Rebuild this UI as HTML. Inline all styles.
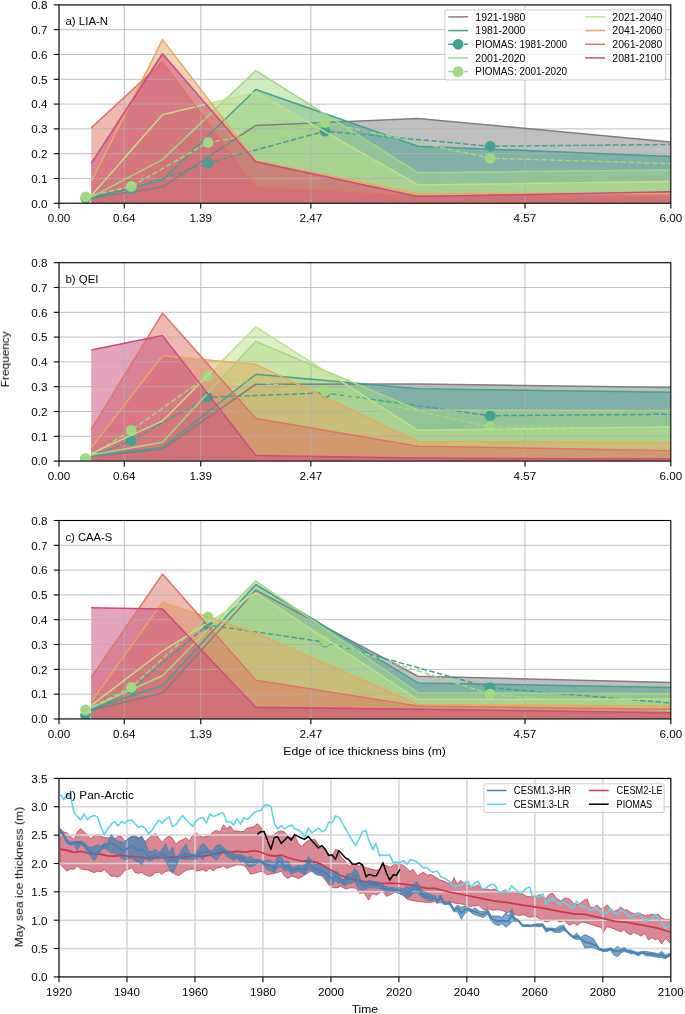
<!DOCTYPE html>
<html><head><meta charset="utf-8"><title>chart</title>
<style>html,body{margin:0;padding:0;background:#fff}svg{display:block}text{font-family:"Liberation Sans",sans-serif;fill:#000}</style>
</head><body>
<svg width="685" height="1014" viewBox="0 0 685 1014">
<rect width="685" height="1014" fill="#fff"/>
<defs><clipPath id="ca"><rect x="59.0" y="4.9" width="611.80" height="198.35"/></clipPath></defs>
<g clip-path="url(#ca)">
<polygon points="91.22,198.29 162.50,186.89 255.80,125.40 417.92,118.46 670.80,142.01 670.80,203.25 91.22,203.25" fill="#7f7f7f" fill-opacity="0.5"/>
<polygon points="91.22,198.29 162.50,179.94 255.80,89.45 417.92,146.22 670.80,156.39 670.80,203.25 91.22,203.25" fill="#44a192" fill-opacity="0.5"/>
<polygon points="91.22,197.05 162.50,159.61 255.80,70.60 417.92,172.63 670.80,170.03 670.80,203.25 91.22,203.25" fill="#a1d884" fill-opacity="0.5"/>
<polygon points="91.22,195.81 162.50,114.74 255.80,92.17 417.92,184.90 670.80,181.43 670.80,203.25 91.22,203.25" fill="#c0e08a" fill-opacity="0.5"/>
<polygon points="91.22,181.68 162.50,39.61 255.80,161.10 417.92,193.58 670.80,193.58 670.80,203.25 91.22,203.25" fill="#e8a862" fill-opacity="0.5"/>
<polygon points="91.22,127.88 162.50,61.93 255.80,186.89 417.92,195.81 670.80,196.56 670.80,203.25 91.22,203.25" fill="#dc7566" fill-opacity="0.5"/>
<polygon points="91.22,163.33 162.50,53.74 255.80,161.84 417.92,196.56 670.80,191.84 670.80,203.25 91.22,203.25" fill="#cc4a7e" fill-opacity="0.5"/>
<line x1="59.00" x2="59.00" y1="4.9" y2="203.25" stroke="#b0b0b0" stroke-width="0.8"/>
<line x1="124.26" x2="124.26" y1="4.9" y2="203.25" stroke="#b0b0b0" stroke-width="0.8"/>
<line x1="200.73" x2="200.73" y1="4.9" y2="203.25" stroke="#b0b0b0" stroke-width="0.8"/>
<line x1="310.86" x2="310.86" y1="4.9" y2="203.25" stroke="#b0b0b0" stroke-width="0.8"/>
<line x1="524.99" x2="524.99" y1="4.9" y2="203.25" stroke="#b0b0b0" stroke-width="0.8"/>
<line x1="670.80" x2="670.80" y1="4.9" y2="203.25" stroke="#b0b0b0" stroke-width="0.8"/>
<line x1="59.0" x2="670.8" y1="203.25" y2="203.25" stroke="#b0b0b0" stroke-width="0.8"/>
<line x1="59.0" x2="670.8" y1="178.46" y2="178.46" stroke="#b0b0b0" stroke-width="0.8"/>
<line x1="59.0" x2="670.8" y1="153.66" y2="153.66" stroke="#b0b0b0" stroke-width="0.8"/>
<line x1="59.0" x2="670.8" y1="128.87" y2="128.87" stroke="#b0b0b0" stroke-width="0.8"/>
<line x1="59.0" x2="670.8" y1="104.08" y2="104.08" stroke="#b0b0b0" stroke-width="0.8"/>
<line x1="59.0" x2="670.8" y1="79.28" y2="79.28" stroke="#b0b0b0" stroke-width="0.8"/>
<line x1="59.0" x2="670.8" y1="54.49" y2="54.49" stroke="#b0b0b0" stroke-width="0.8"/>
<line x1="59.0" x2="670.8" y1="29.69" y2="29.69" stroke="#b0b0b0" stroke-width="0.8"/>
<line x1="59.0" x2="670.8" y1="4.90" y2="4.90" stroke="#b0b0b0" stroke-width="0.8"/>
<polyline points="91.22,198.29 162.50,186.89 255.80,125.40 417.92,118.46 670.80,142.01" fill="none" stroke="#7f7f7f" stroke-width="1.5" stroke-linejoin="round"/>
<polyline points="91.22,198.29 162.50,179.94 255.80,89.45 417.92,146.22 670.80,156.39" fill="none" stroke="#44a192" stroke-width="1.5" stroke-linejoin="round"/>
<polyline points="85.82,198.29 131.29,188.62 208.08,163.08 325.03,131.10 490.22,146.22 670.80,144.49" fill="none" stroke="#44a192" stroke-width="1.5" stroke-dasharray="5.5,2.4"/>
<circle cx="85.82" cy="198.29" r="5.4" fill="#44a192"/>
<circle cx="131.29" cy="188.62" r="5.4" fill="#44a192"/>
<circle cx="208.08" cy="163.08" r="5.4" fill="#44a192"/>
<circle cx="325.03" cy="131.10" r="5.4" fill="#44a192"/>
<circle cx="490.22" cy="146.22" r="5.4" fill="#44a192"/>
<polyline points="91.22,197.05 162.50,159.61 255.80,70.60 417.92,172.63 670.80,170.03" fill="none" stroke="#a1d884" stroke-width="1.5" stroke-linejoin="round"/>
<polyline points="85.82,196.80 131.29,186.39 208.08,142.51 325.03,122.42 490.22,158.13 670.80,163.58" fill="none" stroke="#a1d884" stroke-width="1.5" stroke-dasharray="5.5,2.4"/>
<circle cx="85.82" cy="196.80" r="5.4" fill="#a1d884"/>
<circle cx="131.29" cy="186.39" r="5.4" fill="#a1d884"/>
<circle cx="208.08" cy="142.51" r="5.4" fill="#a1d884"/>
<circle cx="325.03" cy="122.42" r="5.4" fill="#a1d884"/>
<circle cx="490.22" cy="158.13" r="5.4" fill="#a1d884"/>
<polyline points="91.22,195.81 162.50,114.74 255.80,92.17 417.92,184.90 670.80,181.43" fill="none" stroke="#c0e08a" stroke-width="1.5" stroke-linejoin="round"/>
<polyline points="91.22,181.68 162.50,39.61 255.80,161.10 417.92,193.58 670.80,193.58" fill="none" stroke="#e8a862" stroke-width="1.5" stroke-linejoin="round"/>
<polyline points="91.22,127.88 162.50,61.93 255.80,186.89 417.92,195.81 670.80,196.56" fill="none" stroke="#dc7566" stroke-width="1.5" stroke-linejoin="round"/>
<polyline points="91.22,163.33 162.50,53.74 255.80,161.84 417.92,196.56 670.80,191.84" fill="none" stroke="#cc4a7e" stroke-width="1.5" stroke-linejoin="round"/>
</g><g>
<rect x="59.0" y="4.9" width="611.80" height="198.35" fill="none" stroke="#000" stroke-width="1.1"/>
<line x1="59.00" x2="59.00" y1="203.25" y2="208.55" stroke="#000" stroke-width="1.1"/>
<line x1="124.26" x2="124.26" y1="203.25" y2="208.55" stroke="#000" stroke-width="1.1"/>
<line x1="200.73" x2="200.73" y1="203.25" y2="208.55" stroke="#000" stroke-width="1.1"/>
<line x1="310.86" x2="310.86" y1="203.25" y2="208.55" stroke="#000" stroke-width="1.1"/>
<line x1="524.99" x2="524.99" y1="203.25" y2="208.55" stroke="#000" stroke-width="1.1"/>
<line x1="670.80" x2="670.80" y1="203.25" y2="208.55" stroke="#000" stroke-width="1.1"/>
<line x1="53.7" x2="59.0" y1="203.25" y2="203.25" stroke="#000" stroke-width="1.1"/>
<line x1="53.7" x2="59.0" y1="178.46" y2="178.46" stroke="#000" stroke-width="1.1"/>
<line x1="53.7" x2="59.0" y1="153.66" y2="153.66" stroke="#000" stroke-width="1.1"/>
<line x1="53.7" x2="59.0" y1="128.87" y2="128.87" stroke="#000" stroke-width="1.1"/>
<line x1="53.7" x2="59.0" y1="104.08" y2="104.08" stroke="#000" stroke-width="1.1"/>
<line x1="53.7" x2="59.0" y1="79.28" y2="79.28" stroke="#000" stroke-width="1.1"/>
<line x1="53.7" x2="59.0" y1="54.49" y2="54.49" stroke="#000" stroke-width="1.1"/>
<line x1="53.7" x2="59.0" y1="29.69" y2="29.69" stroke="#000" stroke-width="1.1"/>
<line x1="53.7" x2="59.0" y1="4.90" y2="4.90" stroke="#000" stroke-width="1.1"/>
</g>
<defs><clipPath id="cb"><rect x="59.0" y="262.7" width="611.80" height="198.40"/></clipPath></defs>
<g clip-path="url(#cb)">
<polygon points="91.22,456.14 162.50,449.20 255.80,384.22 417.92,383.97 670.80,387.44 670.80,461.1 91.22,461.1" fill="#7f7f7f" fill-opacity="0.5"/>
<polygon points="91.22,456.14 162.50,447.46 255.80,374.30 417.92,388.68 670.80,392.16 670.80,461.1 91.22,461.1" fill="#44a192" fill-opacity="0.5"/>
<polygon points="91.22,454.90 162.50,442.25 255.80,341.32 417.92,410.01 670.80,410.51 670.80,461.1 91.22,461.1" fill="#a1d884" fill-opacity="0.5"/>
<polygon points="91.22,453.66 162.50,420.92 255.80,326.93 417.92,430.35 670.80,426.88 670.80,461.1 91.22,461.1" fill="#c0e08a" fill-opacity="0.5"/>
<polygon points="91.22,447.96 162.50,355.70 255.80,364.38 417.92,441.51 670.80,442.75 670.80,461.1 91.22,461.1" fill="#e8a862" fill-opacity="0.5"/>
<polygon points="91.22,429.60 162.50,313.04 255.80,418.44 417.92,446.22 670.80,450.68 670.80,461.1 91.22,461.1" fill="#dc7566" fill-opacity="0.5"/>
<polygon points="91.22,350.00 162.50,335.61 255.80,455.40 417.92,458.00 670.80,459.12 670.80,461.1 91.22,461.1" fill="#cc4a7e" fill-opacity="0.5"/>
<line x1="59.00" x2="59.00" y1="262.7" y2="461.1" stroke="#b0b0b0" stroke-width="0.8"/>
<line x1="124.26" x2="124.26" y1="262.7" y2="461.1" stroke="#b0b0b0" stroke-width="0.8"/>
<line x1="200.73" x2="200.73" y1="262.7" y2="461.1" stroke="#b0b0b0" stroke-width="0.8"/>
<line x1="310.86" x2="310.86" y1="262.7" y2="461.1" stroke="#b0b0b0" stroke-width="0.8"/>
<line x1="524.99" x2="524.99" y1="262.7" y2="461.1" stroke="#b0b0b0" stroke-width="0.8"/>
<line x1="670.80" x2="670.80" y1="262.7" y2="461.1" stroke="#b0b0b0" stroke-width="0.8"/>
<line x1="59.0" x2="670.8" y1="461.10" y2="461.10" stroke="#b0b0b0" stroke-width="0.8"/>
<line x1="59.0" x2="670.8" y1="436.30" y2="436.30" stroke="#b0b0b0" stroke-width="0.8"/>
<line x1="59.0" x2="670.8" y1="411.50" y2="411.50" stroke="#b0b0b0" stroke-width="0.8"/>
<line x1="59.0" x2="670.8" y1="386.70" y2="386.70" stroke="#b0b0b0" stroke-width="0.8"/>
<line x1="59.0" x2="670.8" y1="361.90" y2="361.90" stroke="#b0b0b0" stroke-width="0.8"/>
<line x1="59.0" x2="670.8" y1="337.10" y2="337.10" stroke="#b0b0b0" stroke-width="0.8"/>
<line x1="59.0" x2="670.8" y1="312.30" y2="312.30" stroke="#b0b0b0" stroke-width="0.8"/>
<line x1="59.0" x2="670.8" y1="287.50" y2="287.50" stroke="#b0b0b0" stroke-width="0.8"/>
<line x1="59.0" x2="670.8" y1="262.70" y2="262.70" stroke="#b0b0b0" stroke-width="0.8"/>
<polyline points="91.22,456.14 162.50,449.20 255.80,384.22 417.92,383.97 670.80,387.44" fill="none" stroke="#7f7f7f" stroke-width="1.5" stroke-linejoin="round"/>
<polyline points="91.22,456.14 162.50,447.46 255.80,374.30 417.92,388.68 670.80,392.16" fill="none" stroke="#44a192" stroke-width="1.5" stroke-linejoin="round"/>
<polyline points="85.51,459.12 131.19,440.52 207.87,397.36 325.23,392.90 490.22,415.72 670.80,414.23" fill="none" stroke="#44a192" stroke-width="1.5" stroke-dasharray="5.5,2.4"/>
<circle cx="85.51" cy="459.12" r="5.4" fill="#44a192"/>
<circle cx="131.19" cy="440.52" r="5.4" fill="#44a192"/>
<circle cx="207.87" cy="397.36" r="5.4" fill="#44a192"/>
<circle cx="325.23" cy="392.90" r="5.4" fill="#44a192"/>
<circle cx="490.22" cy="415.72" r="5.4" fill="#44a192"/>
<polyline points="91.22,454.90 162.50,442.25 255.80,341.32 417.92,410.01 670.80,410.51" fill="none" stroke="#a1d884" stroke-width="1.5" stroke-linejoin="round"/>
<polyline points="85.51,458.37 131.19,430.35 207.87,376.04 325.23,390.92 490.22,426.88 670.80,427.62" fill="none" stroke="#a1d884" stroke-width="1.5" stroke-dasharray="5.5,2.4"/>
<circle cx="85.51" cy="458.37" r="5.4" fill="#a1d884"/>
<circle cx="131.19" cy="430.35" r="5.4" fill="#a1d884"/>
<circle cx="207.87" cy="376.04" r="5.4" fill="#a1d884"/>
<circle cx="325.23" cy="390.92" r="5.4" fill="#a1d884"/>
<circle cx="490.22" cy="426.88" r="5.4" fill="#a1d884"/>
<polyline points="91.22,453.66 162.50,420.92 255.80,326.93 417.92,430.35 670.80,426.88" fill="none" stroke="#c0e08a" stroke-width="1.5" stroke-linejoin="round"/>
<polyline points="91.22,447.96 162.50,355.70 255.80,364.38 417.92,441.51 670.80,442.75" fill="none" stroke="#e8a862" stroke-width="1.5" stroke-linejoin="round"/>
<polyline points="91.22,429.60 162.50,313.04 255.80,418.44 417.92,446.22 670.80,450.68" fill="none" stroke="#dc7566" stroke-width="1.5" stroke-linejoin="round"/>
<polyline points="91.22,350.00 162.50,335.61 255.80,455.40 417.92,458.00 670.80,459.12" fill="none" stroke="#cc4a7e" stroke-width="1.5" stroke-linejoin="round"/>
</g><g>
<rect x="59.0" y="262.7" width="611.80" height="198.40" fill="none" stroke="#000" stroke-width="1.1"/>
<line x1="59.00" x2="59.00" y1="461.1" y2="466.40000000000003" stroke="#000" stroke-width="1.1"/>
<line x1="124.26" x2="124.26" y1="461.1" y2="466.40000000000003" stroke="#000" stroke-width="1.1"/>
<line x1="200.73" x2="200.73" y1="461.1" y2="466.40000000000003" stroke="#000" stroke-width="1.1"/>
<line x1="310.86" x2="310.86" y1="461.1" y2="466.40000000000003" stroke="#000" stroke-width="1.1"/>
<line x1="524.99" x2="524.99" y1="461.1" y2="466.40000000000003" stroke="#000" stroke-width="1.1"/>
<line x1="670.80" x2="670.80" y1="461.1" y2="466.40000000000003" stroke="#000" stroke-width="1.1"/>
<line x1="53.7" x2="59.0" y1="461.10" y2="461.10" stroke="#000" stroke-width="1.1"/>
<line x1="53.7" x2="59.0" y1="436.30" y2="436.30" stroke="#000" stroke-width="1.1"/>
<line x1="53.7" x2="59.0" y1="411.50" y2="411.50" stroke="#000" stroke-width="1.1"/>
<line x1="53.7" x2="59.0" y1="386.70" y2="386.70" stroke="#000" stroke-width="1.1"/>
<line x1="53.7" x2="59.0" y1="361.90" y2="361.90" stroke="#000" stroke-width="1.1"/>
<line x1="53.7" x2="59.0" y1="337.10" y2="337.10" stroke="#000" stroke-width="1.1"/>
<line x1="53.7" x2="59.0" y1="312.30" y2="312.30" stroke="#000" stroke-width="1.1"/>
<line x1="53.7" x2="59.0" y1="287.50" y2="287.50" stroke="#000" stroke-width="1.1"/>
<line x1="53.7" x2="59.0" y1="262.70" y2="262.70" stroke="#000" stroke-width="1.1"/>
</g>
<defs><clipPath id="cc"><rect x="59.0" y="520.5" width="611.80" height="198.45"/></clipPath></defs>
<g clip-path="url(#cc)">
<polygon points="91.22,710.27 162.50,692.90 255.80,590.21 417.92,676.28 670.80,682.48 670.80,718.95 91.22,718.95" fill="#7f7f7f" fill-opacity="0.5"/>
<polygon points="91.22,709.03 162.50,685.46 255.80,584.50 417.92,682.98 670.80,687.45 670.80,718.95 91.22,718.95" fill="#44a192" fill-opacity="0.5"/>
<polygon points="91.22,707.79 162.50,675.79 255.80,581.03 417.92,692.66 670.80,693.65 670.80,718.95 91.22,718.95" fill="#a1d884" fill-opacity="0.5"/>
<polygon points="91.22,705.31 162.50,651.23 255.80,592.93 417.92,699.60 670.80,699.11 670.80,718.95 91.22,718.95" fill="#c0e08a" fill-opacity="0.5"/>
<polygon points="91.22,702.08 162.50,602.11 255.80,633.12 417.92,704.56 670.80,706.30 670.80,718.95 91.22,718.95" fill="#e8a862" fill-opacity="0.5"/>
<polygon points="91.22,677.52 162.50,574.08 255.80,680.25 417.92,706.05 670.80,709.28 670.80,718.95 91.22,718.95" fill="#dc7566" fill-opacity="0.5"/>
<polygon points="91.22,607.82 162.50,609.06 255.80,707.29 417.92,709.28 670.80,712.75 670.80,718.95 91.22,718.95" fill="#cc4a7e" fill-opacity="0.5"/>
<line x1="59.00" x2="59.00" y1="520.5" y2="718.95" stroke="#b0b0b0" stroke-width="0.8"/>
<line x1="124.26" x2="124.26" y1="520.5" y2="718.95" stroke="#b0b0b0" stroke-width="0.8"/>
<line x1="200.73" x2="200.73" y1="520.5" y2="718.95" stroke="#b0b0b0" stroke-width="0.8"/>
<line x1="310.86" x2="310.86" y1="520.5" y2="718.95" stroke="#b0b0b0" stroke-width="0.8"/>
<line x1="524.99" x2="524.99" y1="520.5" y2="718.95" stroke="#b0b0b0" stroke-width="0.8"/>
<line x1="670.80" x2="670.80" y1="520.5" y2="718.95" stroke="#b0b0b0" stroke-width="0.8"/>
<line x1="59.0" x2="670.8" y1="718.95" y2="718.95" stroke="#b0b0b0" stroke-width="0.8"/>
<line x1="59.0" x2="670.8" y1="694.14" y2="694.14" stroke="#b0b0b0" stroke-width="0.8"/>
<line x1="59.0" x2="670.8" y1="669.34" y2="669.34" stroke="#b0b0b0" stroke-width="0.8"/>
<line x1="59.0" x2="670.8" y1="644.53" y2="644.53" stroke="#b0b0b0" stroke-width="0.8"/>
<line x1="59.0" x2="670.8" y1="619.73" y2="619.73" stroke="#b0b0b0" stroke-width="0.8"/>
<line x1="59.0" x2="670.8" y1="594.92" y2="594.92" stroke="#b0b0b0" stroke-width="0.8"/>
<line x1="59.0" x2="670.8" y1="570.11" y2="570.11" stroke="#b0b0b0" stroke-width="0.8"/>
<line x1="59.0" x2="670.8" y1="545.31" y2="545.31" stroke="#b0b0b0" stroke-width="0.8"/>
<line x1="59.0" x2="670.8" y1="520.50" y2="520.50" stroke="#b0b0b0" stroke-width="0.8"/>
<polyline points="91.22,710.27 162.50,692.90 255.80,590.21 417.92,676.28 670.80,682.48" fill="none" stroke="#7f7f7f" stroke-width="1.5" stroke-linejoin="round"/>
<polyline points="91.22,709.03 162.50,685.46 255.80,584.50 417.92,682.98 670.80,687.45" fill="none" stroke="#44a192" stroke-width="1.5" stroke-linejoin="round"/>
<polyline points="85.51,715.23 131.19,689.18 207.87,624.93 325.23,642.05 490.22,687.69 670.80,703.07" fill="none" stroke="#44a192" stroke-width="1.5" stroke-dasharray="5.5,2.4"/>
<circle cx="85.51" cy="715.23" r="5.4" fill="#44a192"/>
<circle cx="131.19" cy="689.18" r="5.4" fill="#44a192"/>
<circle cx="207.87" cy="624.93" r="5.4" fill="#44a192"/>
<circle cx="325.23" cy="642.05" r="5.4" fill="#44a192"/>
<circle cx="490.22" cy="687.69" r="5.4" fill="#44a192"/>
<polyline points="91.22,707.79 162.50,675.79 255.80,581.03 417.92,692.66 670.80,693.65" fill="none" stroke="#a1d884" stroke-width="1.5" stroke-linejoin="round"/>
<polyline points="85.51,710.02 131.19,687.45 207.87,617.00 325.23,641.06 490.22,694.14 670.80,710.76" fill="none" stroke="#a1d884" stroke-width="1.5" stroke-dasharray="5.5,2.4"/>
<circle cx="85.51" cy="710.02" r="5.4" fill="#a1d884"/>
<circle cx="131.19" cy="687.45" r="5.4" fill="#a1d884"/>
<circle cx="207.87" cy="617.00" r="5.4" fill="#a1d884"/>
<circle cx="325.23" cy="641.06" r="5.4" fill="#a1d884"/>
<circle cx="490.22" cy="694.14" r="5.4" fill="#a1d884"/>
<polyline points="91.22,705.31 162.50,651.23 255.80,592.93 417.92,699.60 670.80,699.11" fill="none" stroke="#c0e08a" stroke-width="1.5" stroke-linejoin="round"/>
<polyline points="91.22,702.08 162.50,602.11 255.80,633.12 417.92,704.56 670.80,706.30" fill="none" stroke="#e8a862" stroke-width="1.5" stroke-linejoin="round"/>
<polyline points="91.22,677.52 162.50,574.08 255.80,680.25 417.92,706.05 670.80,709.28" fill="none" stroke="#dc7566" stroke-width="1.5" stroke-linejoin="round"/>
<polyline points="91.22,607.82 162.50,609.06 255.80,707.29 417.92,709.28 670.80,712.75" fill="none" stroke="#cc4a7e" stroke-width="1.5" stroke-linejoin="round"/>
</g><g>
<rect x="59.0" y="520.5" width="611.80" height="198.45" fill="none" stroke="#000" stroke-width="1.1"/>
<line x1="59.00" x2="59.00" y1="718.95" y2="724.25" stroke="#000" stroke-width="1.1"/>
<line x1="124.26" x2="124.26" y1="718.95" y2="724.25" stroke="#000" stroke-width="1.1"/>
<line x1="200.73" x2="200.73" y1="718.95" y2="724.25" stroke="#000" stroke-width="1.1"/>
<line x1="310.86" x2="310.86" y1="718.95" y2="724.25" stroke="#000" stroke-width="1.1"/>
<line x1="524.99" x2="524.99" y1="718.95" y2="724.25" stroke="#000" stroke-width="1.1"/>
<line x1="670.80" x2="670.80" y1="718.95" y2="724.25" stroke="#000" stroke-width="1.1"/>
<line x1="53.7" x2="59.0" y1="718.95" y2="718.95" stroke="#000" stroke-width="1.1"/>
<line x1="53.7" x2="59.0" y1="694.14" y2="694.14" stroke="#000" stroke-width="1.1"/>
<line x1="53.7" x2="59.0" y1="669.34" y2="669.34" stroke="#000" stroke-width="1.1"/>
<line x1="53.7" x2="59.0" y1="644.53" y2="644.53" stroke="#000" stroke-width="1.1"/>
<line x1="53.7" x2="59.0" y1="619.73" y2="619.73" stroke="#000" stroke-width="1.1"/>
<line x1="53.7" x2="59.0" y1="594.92" y2="594.92" stroke="#000" stroke-width="1.1"/>
<line x1="53.7" x2="59.0" y1="570.11" y2="570.11" stroke="#000" stroke-width="1.1"/>
<line x1="53.7" x2="59.0" y1="545.31" y2="545.31" stroke="#000" stroke-width="1.1"/>
<line x1="53.7" x2="59.0" y1="520.50" y2="520.50" stroke="#000" stroke-width="1.1"/>
</g>
<rect x="444.9" y="9.9" width="220.7" height="70.1" rx="2" fill="#fff" fill-opacity="0.8" stroke="#ccc" stroke-width="1"/>
<line x1="448.2" x2="468" y1="16.9" y2="16.9" stroke="#7f7f7f" stroke-width="1.5"/>
<line x1="448.2" x2="468" y1="30.6" y2="30.6" stroke="#44a192" stroke-width="1.5"/>
<line x1="448.2" x2="468" y1="44.3" y2="44.3" stroke="#44a192" stroke-width="1.5" stroke-dasharray="5.5,2.4"/>
<circle cx="458.1" cy="44.3" r="5.4" fill="#44a192"/>
<line x1="448.2" x2="468" y1="57.9" y2="57.9" stroke="#a1d884" stroke-width="1.5"/>
<line x1="448.2" x2="468" y1="71.6" y2="71.6" stroke="#a1d884" stroke-width="1.5" stroke-dasharray="5.5,2.4"/>
<circle cx="458.1" cy="71.6" r="5.4" fill="#a1d884"/>
<line x1="585.2" x2="605" y1="16.9" y2="16.9" stroke="#c0e08a" stroke-width="1.5"/>
<line x1="585.2" x2="605" y1="30.6" y2="30.6" stroke="#e8a862" stroke-width="1.5"/>
<line x1="585.2" x2="605" y1="44.3" y2="44.3" stroke="#dc7566" stroke-width="1.5"/>
<line x1="585.2" x2="605" y1="57.9" y2="57.9" stroke="#cc4a7e" stroke-width="1.5"/>
<defs><clipPath id="cd"><rect x="59.0" y="778.4" width="611.80" height="198.50"/></clipPath></defs>
<g clip-path="url(#cd)">
<polygon points="60.3,829.5 63.7,832.0 67.1,832.9 70.5,836.1 73.9,839.7 77.3,832.0 80.7,828.5 84.1,832.0 87.4,834.9 90.8,838.7 94.2,835.4 97.6,834.6 101.0,836.1 104.4,837.6 107.8,837.8 111.2,837.6 114.6,839.3 118.0,836.1 121.4,836.4 124.8,841.2 128.2,839.0 131.6,836.8 135.0,836.1 138.4,837.6 141.8,837.6 145.2,841.6 148.6,838.3 152.0,835.4 155.4,833.5 158.8,838.3 162.2,842.2 165.6,838.3 169.0,836.1 172.4,838.3 175.8,844.1 179.2,841.2 182.6,839.7 186.0,837.8 189.4,840.8 192.8,835.4 196.2,832.9 199.6,835.4 203.0,837.3 206.4,836.1 209.8,835.4 213.2,832.0 216.6,830.3 220.0,832.4 223.4,824.7 226.8,828.8 230.2,825.9 233.6,831.0 237.0,831.0 240.4,831.7 243.8,831.4 247.2,828.1 250.6,827.6 254.0,826.6 257.4,823.7 260.8,827.3 264.2,833.2 267.6,835.4 271.0,836.1 274.4,834.6 277.8,831.4 281.2,831.0 284.6,832.0 288.0,836.8 291.4,837.6 294.8,835.4 298.2,842.7 301.6,847.0 305.0,842.7 308.4,840.5 311.8,839.7 315.2,839.7 318.6,844.9 322.0,847.8 325.4,850.0 328.8,854.3 332.2,856.5 335.6,849.2 339.0,850.7 340.0,855.5 346.6,862.8 349.1,866.4 353.1,862.8 356.1,864.2 359.0,866.4 361.9,865.0 364.8,867.2 369.2,868.6 375.0,870.1 378.7,870.1 382.3,864.2 386.7,865.7 390.4,867.2 394.7,864.2 397.7,865.0 401.3,864.2 405.7,867.2 410.1,871.5 413.0,869.3 417.4,875.9 423.2,872.3 427.6,875.2 431.2,874.5 435.0,876.7 439.4,879.6 443.8,881.1 448.1,883.3 451.8,882.6 454.0,877.4 456.9,884.0 460.5,880.4 463.5,882.6 467.1,884.0 471.5,887.7 474.4,886.9 477.3,884.7 481.7,888.4 486.1,889.1 490.5,889.9 494.9,889.1 499.2,892.8 502.2,891.3 505.1,889.9 509.5,892.8 513.8,892.5 518.2,893.5 522.6,894.2 527.0,896.4 530.0,896.7 535.8,896.7 540.2,894.5 544.6,899.6 549.0,894.5 552.6,893.1 556.3,898.2 560.7,901.1 565.0,897.9 569.4,898.9 573.8,903.3 578.2,904.7 585.0,899.7 587.2,899.0 590.1,907.0 593.8,907.7 596.7,904.8 600.3,908.5 604.0,907.7 607.2,904.8 610.5,908.5 614.2,911.4 617.4,909.9 620.8,907.0 624.1,909.9 627.3,909.9 631.0,912.8 634.6,913.6 638.3,912.8 641.9,914.3 645.6,915.8 649.2,915.0 652.2,914.3 655.1,915.0 658.4,914.3 661.6,918.0 665.0,919.4 671.1,919.4 671.1,943.1 669.7,942.8 665.3,938.4 661.6,943.9 658.0,938.4 655.1,939.9 652.2,937.7 648.5,939.9 644.9,933.3 641.2,936.2 637.6,934.0 633.9,932.6 631.0,934.7 627.3,933.3 624.1,929.6 620.8,931.8 617.4,930.4 614.2,928.9 610.5,927.4 606.9,926.7 603.2,932.6 601.4,927.4 598.1,926.7 593.8,925.3 589.4,923.8 585.0,922.3 581.1,922.3 577.4,925.2 573.8,923.0 569.4,925.2 564.3,920.8 559.2,921.8 554.8,919.3 550.4,920.8 546.1,921.8 540.2,919.3 535.8,916.4 530.0,917.2 528.4,916.9 524.1,914.7 519.7,915.4 515.3,914.7 510.9,911.8 506.5,912.5 502.2,910.3 497.8,909.6 493.4,910.3 487.6,908.8 483.2,909.6 478.8,905.2 474.4,905.9 470.0,906.6 464.2,904.5 459.8,903.7 454.0,903.0 449.6,901.5 443.8,903.0 439.4,902.7 435.0,901.5 430.5,902.6 424.7,902.2 418.8,901.5 413.0,900.7 407.2,899.3 402.8,894.9 398.4,893.4 395.5,892.0 391.1,894.2 386.7,896.4 382.3,891.2 376.5,894.9 372.1,893.4 368.5,900.0 364.1,892.7 359.7,893.4 356.1,888.3 350.9,887.6 345.8,889.1 340.0,886.1 339.0,887.2 335.6,887.9 332.2,887.2 328.8,885.0 325.4,879.9 322.0,876.2 318.6,874.1 315.2,872.6 311.8,871.1 308.4,872.6 305.0,874.8 301.6,877.0 298.2,878.4 294.8,877.0 291.4,876.2 288.0,878.4 284.6,876.2 281.2,871.1 277.8,872.6 274.4,873.3 271.0,873.8 267.6,874.8 264.2,872.6 260.8,871.4 257.4,872.6 254.0,873.3 250.6,874.3 247.2,868.9 243.8,865.3 240.4,865.0 237.0,864.6 233.6,866.0 230.2,866.8 226.8,868.5 223.4,866.0 220.0,867.5 216.6,868.2 213.2,870.8 209.8,868.2 206.4,871.4 203.0,869.4 199.6,870.4 196.2,871.1 192.8,868.9 189.4,869.4 186.0,870.4 182.6,872.6 179.2,875.5 175.8,874.8 172.4,871.9 169.0,870.8 165.6,871.4 162.2,874.1 158.8,872.3 155.4,872.6 152.0,875.8 148.6,876.2 145.2,874.8 141.8,872.6 138.4,873.3 135.0,872.6 131.6,867.5 128.2,869.4 124.8,870.4 121.4,874.8 118.0,877.0 114.6,876.2 111.2,876.2 107.8,873.3 104.4,869.7 101.0,871.9 97.6,871.1 94.2,872.6 90.8,871.4 87.4,869.7 84.1,869.4 80.7,868.9 77.3,866.0 73.9,869.4 70.5,868.9 67.1,871.1 63.7,867.9 60.3,864.6" fill="#c23b4c" fill-opacity="0.6" stroke="#c23b4c" stroke-opacity="0.75" stroke-width="1" stroke-linejoin="round"/>
<polygon points="60.3,828.8 63.7,833.9 67.1,839.7 70.5,842.7 73.9,841.2 77.3,841.6 80.7,841.2 84.1,842.7 87.4,846.3 90.8,847.8 94.2,846.3 97.6,844.9 101.0,846.3 104.4,843.4 107.8,842.7 111.2,834.6 114.6,838.3 118.0,841.2 121.4,841.9 124.8,842.7 128.2,838.3 131.6,836.4 135.0,836.4 138.4,839.0 141.8,836.1 145.2,842.7 148.6,851.4 152.0,851.4 155.4,849.2 158.8,852.9 162.2,850.0 165.6,843.4 169.0,853.6 172.4,847.0 175.8,858.0 179.2,854.3 182.6,849.2 186.0,844.1 189.4,852.9 192.8,855.1 196.2,853.6 199.6,847.8 203.0,843.4 206.4,847.0 209.8,851.0 213.2,850.0 216.6,845.6 220.0,844.9 223.4,847.8 226.8,850.7 230.2,851.4 233.6,853.6 237.0,855.1 240.4,854.3 243.8,855.8 247.2,857.7 250.6,856.2 254.0,859.5 257.4,859.5 260.8,860.2 264.2,861.6 267.6,859.7 271.0,860.9 274.4,863.1 277.8,856.2 281.2,857.3 284.6,862.4 288.0,860.9 291.4,866.8 294.8,867.5 298.2,865.3 301.6,866.0 305.0,864.6 308.4,856.5 311.8,860.9 315.2,864.6 318.6,864.6 322.0,866.8 325.4,866.8 328.8,870.4 332.2,873.3 335.6,871.1 339.0,874.1 340.0,878.1 343.6,879.6 347.3,873.7 350.9,874.5 354.6,868.6 357.5,871.5 360.4,879.6 364.1,883.2 368.5,880.3 372.1,881.0 376.5,881.8 380.1,883.2 383.8,885.4 388.2,887.6 392.6,887.6 396.2,888.3 399.9,887.6 403.5,889.8 406.4,886.1 410.1,888.3 413.0,884.7 416.6,881.8 419.6,886.1 423.2,891.2 427.6,893.4 432.0,895.6 435.0,895.7 437.2,900.1 440.5,895.0 443.8,901.5 447.4,902.3 449.6,901.5 454.0,908.8 457.6,905.2 461.3,907.4 464.9,905.9 468.6,908.1 472.2,909.6 475.1,908.1 478.8,911.0 483.2,911.8 487.6,909.6 491.2,916.1 494.9,916.1 498.5,916.1 502.2,917.6 505.8,912.5 508.7,916.1 511.9,908.8 514.6,917.6 518.2,919.8 522.6,924.9 528.4,924.9 530.0,925.2 534.4,924.5 538.0,923.7 542.4,923.7 546.1,928.1 551.2,928.1 555.5,928.8 559.9,925.9 563.6,925.2 566.5,930.3 570.1,933.9 573.8,936.1 576.7,933.2 580.4,937.6 585.0,934.7 588.6,936.2 593.0,938.4 595.9,942.8 598.9,947.9 603.2,949.3 606.9,948.9 610.5,947.9 614.2,949.8 617.4,946.4 620.8,949.3 624.1,947.4 627.3,950.1 631.0,950.1 634.6,951.5 638.3,952.3 641.9,951.5 646.3,951.5 650.7,952.3 655.1,953.0 658.7,953.7 661.6,951.5 665.3,955.2 668.9,953.7 671.1,953.0 671.1,955.9 668.9,956.6 665.3,958.8 661.6,957.4 658.7,957.4 655.1,956.6 650.7,955.9 646.3,955.9 641.9,953.0 638.3,955.9 634.6,953.7 631.0,953.7 627.3,952.3 624.1,951.5 620.8,953.0 617.4,956.6 614.2,955.2 610.5,950.1 606.9,951.5 603.2,951.5 598.9,950.1 595.9,948.9 593.0,947.2 588.6,947.4 585.0,947.9 580.4,939.1 576.7,939.8 573.8,938.3 570.1,935.4 566.5,931.8 563.6,930.3 559.9,932.5 555.5,932.5 551.2,930.3 546.1,931.8 542.4,925.9 538.0,926.6 534.4,925.9 530.0,926.6 528.4,926.4 522.6,926.4 518.2,921.2 514.6,921.2 511.9,921.2 508.7,924.9 505.8,927.1 502.2,923.4 498.5,925.6 494.9,924.2 491.2,920.5 487.6,913.9 483.2,917.6 478.8,916.1 475.1,914.7 472.2,913.2 468.6,910.3 464.9,913.2 461.3,919.1 457.6,911.8 454.0,911.8 449.6,904.5 447.4,904.5 443.8,904.5 440.5,898.6 437.2,903.7 435.0,898.6 432.0,900.7 427.6,900.0 423.2,897.8 419.6,894.9 416.6,892.0 413.0,893.4 410.1,896.4 406.4,897.8 403.5,894.9 399.9,893.4 396.2,892.0 391.1,891.2 386.7,892.7 382.3,889.1 378.0,888.3 372.1,887.6 367.7,888.3 363.4,889.8 359.0,889.1 354.6,881.8 350.9,883.2 347.3,883.9 344.4,886.1 340.0,881.8 339.0,883.5 335.6,879.9 332.2,885.0 328.8,882.1 325.4,878.4 322.0,874.8 318.6,875.5 315.2,874.1 311.8,871.1 308.4,868.9 305.0,874.8 301.6,872.6 298.2,871.1 294.8,872.6 291.4,874.1 288.0,869.7 284.6,871.1 281.2,866.8 277.8,867.5 274.4,872.6 271.0,871.1 267.6,869.7 264.2,866.0 260.8,862.4 257.4,863.1 254.0,865.3 250.6,866.8 247.2,866.0 243.8,860.9 240.4,861.6 237.0,858.0 233.6,860.2 230.2,858.0 226.8,856.5 223.4,852.2 220.0,855.1 216.6,860.2 213.2,858.0 209.8,853.9 206.4,854.3 203.0,859.5 199.6,856.5 196.2,858.7 192.8,859.5 189.4,858.7 186.0,859.5 182.6,859.5 179.2,858.0 175.8,866.8 172.4,873.3 169.0,867.5 165.6,860.9 162.2,856.5 158.8,858.0 155.4,857.3 152.0,860.2 148.6,860.9 145.2,858.0 141.8,864.6 138.4,861.6 135.0,860.9 131.6,858.0 128.2,858.7 124.8,859.5 121.4,858.0 118.0,855.1 114.6,852.9 111.2,852.4 107.8,850.0 104.4,848.1 101.0,850.0 97.6,855.1 94.2,860.6 90.8,856.5 87.4,851.4 84.1,847.0 80.7,844.1 77.3,850.4 73.9,843.7 70.5,845.1 67.1,843.4 63.7,836.8 60.3,830.3" fill="#4682b4" fill-opacity="0.55"/>
</g>
<line x1="59.00" x2="59.00" y1="778.4" y2="976.9" stroke="#d4d4d4" stroke-width="1.5"/>
<line x1="126.98" x2="126.98" y1="778.4" y2="976.9" stroke="#d4d4d4" stroke-width="1.5"/>
<line x1="194.96" x2="194.96" y1="778.4" y2="976.9" stroke="#d4d4d4" stroke-width="1.5"/>
<line x1="262.93" x2="262.93" y1="778.4" y2="976.9" stroke="#d4d4d4" stroke-width="1.5"/>
<line x1="330.91" x2="330.91" y1="778.4" y2="976.9" stroke="#d4d4d4" stroke-width="1.5"/>
<line x1="398.89" x2="398.89" y1="778.4" y2="976.9" stroke="#d4d4d4" stroke-width="1.5"/>
<line x1="466.87" x2="466.87" y1="778.4" y2="976.9" stroke="#d4d4d4" stroke-width="1.5"/>
<line x1="534.84" x2="534.84" y1="778.4" y2="976.9" stroke="#d4d4d4" stroke-width="1.5"/>
<line x1="602.82" x2="602.82" y1="778.4" y2="976.9" stroke="#d4d4d4" stroke-width="1.5"/>
<line x1="670.80" x2="670.80" y1="778.4" y2="976.9" stroke="#d4d4d4" stroke-width="1.5"/>
<line x1="59.0" x2="670.8" y1="976.90" y2="976.90" stroke="#d4d4d4" stroke-width="1.5"/>
<line x1="59.0" x2="670.8" y1="948.54" y2="948.54" stroke="#d4d4d4" stroke-width="1.5"/>
<line x1="59.0" x2="670.8" y1="920.19" y2="920.19" stroke="#d4d4d4" stroke-width="1.5"/>
<line x1="59.0" x2="670.8" y1="891.83" y2="891.83" stroke="#d4d4d4" stroke-width="1.5"/>
<line x1="59.0" x2="670.8" y1="863.47" y2="863.47" stroke="#d4d4d4" stroke-width="1.5"/>
<line x1="59.0" x2="670.8" y1="835.11" y2="835.11" stroke="#d4d4d4" stroke-width="1.5"/>
<line x1="59.0" x2="670.8" y1="806.76" y2="806.76" stroke="#d4d4d4" stroke-width="1.5"/>
<line x1="59.0" x2="670.8" y1="778.40" y2="778.40" stroke="#d4d4d4" stroke-width="1.5"/>
<g clip-path="url(#cd)">
<polyline points="60.3,849.2 67.1,850.4 73.9,852.4 80.7,851.4 87.4,852.9 94.2,853.6 101.0,854.3 107.8,855.8 114.6,856.2 121.4,855.4 128.2,856.2 135.0,856.8 141.8,857.3 148.6,858.0 152.0,857.6 162.2,858.0 172.4,856.8 182.6,857.3 192.8,855.8 203.0,856.5 213.2,854.3 223.4,852.2 230.2,852.4 237.0,851.4 243.8,852.2 247.2,851.9 254.0,850.7 260.8,852.2 267.6,854.8 274.4,856.2 281.2,855.1 288.0,857.7 294.8,859.5 301.6,861.2 308.4,860.9 315.2,862.1 322.0,864.6 328.8,868.9 335.6,872.6 340.0,875.2 347.3,877.4 354.6,879.6 361.9,881.0 369.2,882.5 376.5,882.9 383.8,883.5 391.1,883.2 398.4,883.5 405.7,884.4 413.0,885.4 420.3,886.9 427.6,888.3 435.0,888.4 449.6,892.0 464.2,895.0 478.8,897.9 493.4,900.8 508.0,902.7 522.6,905.2 530.0,906.2 544.6,908.4 559.2,911.3 573.8,913.9 585.0,914.3 599.6,917.7 614.2,921.2 628.8,922.6 643.4,925.3 658.0,928.2 671.1,932.3" fill="none" stroke="#c8374a" stroke-width="1.7" stroke-linejoin="round"/>
<polygon points="60.3,828.8 63.7,833.9 67.1,839.7 70.5,842.7 73.9,841.2 77.3,841.6 80.7,841.2 84.1,842.7 87.4,846.3 90.8,847.8 94.2,846.3 97.6,844.9 101.0,846.3 104.4,843.4 107.8,842.7 111.2,834.6 114.6,838.3 118.0,841.2 121.4,841.9 124.8,842.7 128.2,838.3 131.6,836.4 135.0,836.4 138.4,839.0 141.8,836.1 145.2,842.7 148.6,851.4 152.0,851.4 155.4,849.2 158.8,852.9 162.2,850.0 165.6,843.4 169.0,853.6 172.4,847.0 175.8,858.0 179.2,854.3 182.6,849.2 186.0,844.1 189.4,852.9 192.8,855.1 196.2,853.6 199.6,847.8 203.0,843.4 206.4,847.0 209.8,851.0 213.2,850.0 216.6,845.6 220.0,844.9 223.4,847.8 226.8,850.7 230.2,851.4 233.6,853.6 237.0,855.1 240.4,854.3 243.8,855.8 247.2,857.7 250.6,856.2 254.0,859.5 257.4,859.5 260.8,860.2 264.2,861.6 267.6,859.7 271.0,860.9 274.4,863.1 277.8,856.2 281.2,857.3 284.6,862.4 288.0,860.9 291.4,866.8 294.8,867.5 298.2,865.3 301.6,866.0 305.0,864.6 308.4,856.5 311.8,860.9 315.2,864.6 318.6,864.6 322.0,866.8 325.4,866.8 328.8,870.4 332.2,873.3 335.6,871.1 339.0,874.1 340.0,878.1 343.6,879.6 347.3,873.7 350.9,874.5 354.6,868.6 357.5,871.5 360.4,879.6 364.1,883.2 368.5,880.3 372.1,881.0 376.5,881.8 380.1,883.2 383.8,885.4 388.2,887.6 392.6,887.6 396.2,888.3 399.9,887.6 403.5,889.8 406.4,886.1 410.1,888.3 413.0,884.7 416.6,881.8 419.6,886.1 423.2,891.2 427.6,893.4 432.0,895.6 435.0,895.7 437.2,900.1 440.5,895.0 443.8,901.5 447.4,902.3 449.6,901.5 454.0,908.8 457.6,905.2 461.3,907.4 464.9,905.9 468.6,908.1 472.2,909.6 475.1,908.1 478.8,911.0 483.2,911.8 487.6,909.6 491.2,916.1 494.9,916.1 498.5,916.1 502.2,917.6 505.8,912.5 508.7,916.1 511.9,908.8 514.6,917.6 518.2,919.8 522.6,924.9 528.4,924.9 530.0,925.2 534.4,924.5 538.0,923.7 542.4,923.7 546.1,928.1 551.2,928.1 555.5,928.8 559.9,925.9 563.6,925.2 566.5,930.3 570.1,933.9 573.8,936.1 576.7,933.2 580.4,937.6 585.0,934.7 588.6,936.2 593.0,938.4 595.9,942.8 598.9,947.9 603.2,949.3 606.9,948.9 610.5,947.9 614.2,949.8 617.4,946.4 620.8,949.3 624.1,947.4 627.3,950.1 631.0,950.1 634.6,951.5 638.3,952.3 641.9,951.5 646.3,951.5 650.7,952.3 655.1,953.0 658.7,953.7 661.6,951.5 665.3,955.2 668.9,953.7 671.1,953.0 671.1,955.9 668.9,956.6 665.3,958.8 661.6,957.4 658.7,957.4 655.1,956.6 650.7,955.9 646.3,955.9 641.9,953.0 638.3,955.9 634.6,953.7 631.0,953.7 627.3,952.3 624.1,951.5 620.8,953.0 617.4,956.6 614.2,955.2 610.5,950.1 606.9,951.5 603.2,951.5 598.9,950.1 595.9,948.9 593.0,947.2 588.6,947.4 585.0,947.9 580.4,939.1 576.7,939.8 573.8,938.3 570.1,935.4 566.5,931.8 563.6,930.3 559.9,932.5 555.5,932.5 551.2,930.3 546.1,931.8 542.4,925.9 538.0,926.6 534.4,925.9 530.0,926.6 528.4,926.4 522.6,926.4 518.2,921.2 514.6,921.2 511.9,921.2 508.7,924.9 505.8,927.1 502.2,923.4 498.5,925.6 494.9,924.2 491.2,920.5 487.6,913.9 483.2,917.6 478.8,916.1 475.1,914.7 472.2,913.2 468.6,910.3 464.9,913.2 461.3,919.1 457.6,911.8 454.0,911.8 449.6,904.5 447.4,904.5 443.8,904.5 440.5,898.6 437.2,903.7 435.0,898.6 432.0,900.7 427.6,900.0 423.2,897.8 419.6,894.9 416.6,892.0 413.0,893.4 410.1,896.4 406.4,897.8 403.5,894.9 399.9,893.4 396.2,892.0 391.1,891.2 386.7,892.7 382.3,889.1 378.0,888.3 372.1,887.6 367.7,888.3 363.4,889.8 359.0,889.1 354.6,881.8 350.9,883.2 347.3,883.9 344.4,886.1 340.0,881.8 339.0,883.5 335.6,879.9 332.2,885.0 328.8,882.1 325.4,878.4 322.0,874.8 318.6,875.5 315.2,874.1 311.8,871.1 308.4,868.9 305.0,874.8 301.6,872.6 298.2,871.1 294.8,872.6 291.4,874.1 288.0,869.7 284.6,871.1 281.2,866.8 277.8,867.5 274.4,872.6 271.0,871.1 267.6,869.7 264.2,866.0 260.8,862.4 257.4,863.1 254.0,865.3 250.6,866.8 247.2,866.0 243.8,860.9 240.4,861.6 237.0,858.0 233.6,860.2 230.2,858.0 226.8,856.5 223.4,852.2 220.0,855.1 216.6,860.2 213.2,858.0 209.8,853.9 206.4,854.3 203.0,859.5 199.6,856.5 196.2,858.7 192.8,859.5 189.4,858.7 186.0,859.5 182.6,859.5 179.2,858.0 175.8,866.8 172.4,873.3 169.0,867.5 165.6,860.9 162.2,856.5 158.8,858.0 155.4,857.3 152.0,860.2 148.6,860.9 145.2,858.0 141.8,864.6 138.4,861.6 135.0,860.9 131.6,858.0 128.2,858.7 124.8,859.5 121.4,858.0 118.0,855.1 114.6,852.9 111.2,852.4 107.8,850.0 104.4,848.1 101.0,850.0 97.6,855.1 94.2,860.6 90.8,856.5 87.4,851.4 84.1,847.0 80.7,844.1 77.3,850.4 73.9,843.7 70.5,845.1 67.1,843.4 63.7,836.8 60.3,830.3" fill="#4682b4" fill-opacity="0.35" stroke="#4682b4" stroke-opacity="0.75" stroke-width="1.1" stroke-linejoin="round"/>
<polyline points="60.3,829.5 63.7,835.4 67.1,841.9 70.5,844.1 73.9,842.7 77.3,843.4 80.7,841.9 84.1,844.9 87.4,849.2 90.8,851.4 94.2,853.6 97.6,852.9 101.0,848.5 104.4,845.6 107.8,844.9 111.2,842.7 114.6,844.9 118.0,847.8 121.4,849.2 124.8,850.7 128.2,847.8 131.6,845.6 135.0,847.8 138.4,850.7 141.8,848.5 145.2,852.2 148.6,856.5 152.0,856.5 155.4,854.3 158.8,857.3 162.2,853.6 165.6,855.1 169.0,860.9 172.4,858.7 175.8,860.9 179.2,856.5 182.6,855.1 186.0,853.6 189.4,855.8 192.8,856.5 196.2,856.2 199.6,853.6 203.0,852.2 206.4,851.9 209.8,852.4 213.2,854.3 216.6,852.2 220.0,849.2 223.4,850.0 226.8,853.6 230.2,855.1 233.6,856.5 237.0,856.5 240.4,857.3 243.8,858.7 247.2,862.4 250.6,861.6 254.0,862.4 257.4,861.2 260.8,861.2 264.2,863.8 267.6,864.6 271.0,866.0 274.4,868.2 277.8,861.6 281.2,862.1 284.6,866.8 288.0,865.3 291.4,870.4 294.8,870.0 298.2,868.2 301.6,869.4 305.0,869.7 308.4,862.4 311.8,866.0 315.2,869.4 318.6,870.0 322.0,870.8 325.4,872.6 328.8,876.2 332.2,879.2 335.6,875.5 339.0,878.7 340.0,880.0 343.9,882.9 347.3,878.8 350.9,878.8 354.6,875.2 358.2,880.3 361.9,884.7 366.0,885.8 368.5,884.4 372.1,884.4 377.2,885.0 381.2,886.1 385.3,889.1 389.6,889.3 394.3,889.8 398.1,890.2 399.9,890.5 403.5,892.3 406.4,892.0 410.1,892.3 413.0,889.1 416.6,886.9 419.6,890.5 423.2,894.6 427.6,896.6 432.0,898.1 435.0,897.2 437.2,901.8 440.5,896.9 443.8,903.0 447.4,903.3 449.6,903.0 454.0,910.3 457.6,908.1 461.3,913.2 464.9,909.6 468.6,909.1 472.2,911.5 475.1,911.5 478.8,913.5 483.2,914.7 487.6,911.8 491.2,918.3 494.9,920.2 498.5,920.8 502.2,920.5 505.8,921.2 508.7,920.8 511.9,914.7 514.6,919.3 518.2,920.5 522.6,925.6 528.4,925.6 530.0,925.9 534.4,925.2 538.0,925.2 542.4,924.7 546.1,930.0 551.2,929.1 555.5,930.6 559.9,929.1 563.6,927.7 566.5,931.0 570.1,934.7 573.8,937.3 576.7,936.4 580.4,938.3 585.0,942.0 588.6,942.8 593.0,944.2 595.9,945.7 598.9,948.6 603.2,950.4 606.9,950.1 610.5,948.6 614.2,951.5 617.4,950.8 620.8,950.8 624.1,949.3 627.3,951.2 631.0,951.8 634.6,952.7 638.3,954.2 641.9,952.3 646.3,953.7 650.7,954.2 655.1,954.7 658.7,955.6 661.6,954.7 665.3,957.1 668.9,955.2 671.1,954.5" fill="none" stroke="#4682b4" stroke-width="1.8" stroke-linejoin="round"/>
<polyline points="60.3,794.5 63.7,799.6 67.1,794.1 70.5,796.7 73.9,812.0 77.3,816.4 80.7,820.0 84.1,813.9 87.4,819.7 90.8,816.8 94.2,815.4 97.6,817.1 101.0,827.3 104.4,834.6 107.8,828.8 111.2,824.4 114.6,821.5 118.0,825.9 121.4,821.8 124.8,823.2 128.2,820.8 131.6,819.7 135.0,823.7 138.4,827.3 141.8,826.3 145.2,828.1 148.6,833.9 152.0,830.3 155.4,824.7 158.8,820.0 162.2,823.2 165.6,819.3 169.0,816.8 172.4,826.6 175.8,824.4 179.2,820.0 182.6,815.4 186.0,819.7 189.4,823.2 192.8,826.2 196.2,820.8 199.6,818.3 203.0,817.8 206.4,823.0 209.8,813.9 213.2,816.4 216.6,815.4 220.0,813.5 223.4,813.0 226.8,822.2 230.2,821.2 233.6,825.1 237.0,818.6 240.4,824.1 243.8,817.8 247.2,819.3 250.6,816.4 254.0,812.7 257.4,811.0 260.8,810.5 264.2,805.4 267.6,804.7 271.0,806.9 274.4,823.7 277.8,828.8 281.2,825.6 284.6,828.8 288.0,826.6 291.4,824.7 294.8,828.8 298.2,830.0 301.6,832.4 305.0,836.8 308.4,828.1 311.8,832.9 315.2,830.5 318.6,828.1 322.0,831.7 325.4,830.3 328.8,822.2 332.2,822.7 335.6,815.9 339.0,817.8 341.0,820.4 344.5,827.0 347.9,832.8 351.2,838.7 355.8,845.5 358.1,840.9 362.6,831.4 366.0,830.4 368.3,838.7 372.8,849.6 375.8,843.5 379.7,855.8 381.9,854.7 385.3,855.5 389.6,854.7 393.3,862.8 395.5,862.0 398.8,863.1 403.5,860.6 406.9,864.2 410.4,859.6 412.4,860.1 415.9,861.3 419.3,864.2 423.9,868.3 426.9,867.2 429.5,870.1 432.8,872.3 437.2,870.9 440.8,876.7 444.5,878.2 448.9,881.1 454.0,886.9 458.4,885.8 462.0,884.7 465.7,882.3 468.3,881.8 471.5,887.7 475.1,882.6 478.1,881.4 481.7,888.4 485.4,888.7 488.3,886.2 491.9,884.0 494.9,885.2 498.5,892.0 501.4,892.5 505.1,891.3 508.0,892.8 511.6,885.5 515.3,889.1 518.9,892.8 521.9,893.1 525.5,889.1 529.2,886.9 530.0,888.2 532.2,896.0 536.6,896.4 540.2,896.7 542.8,893.8 546.1,904.3 549.0,901.1 552.6,897.9 556.3,901.8 559.9,904.3 562.8,901.1 566.5,904.0 569.4,906.2 573.1,908.1 576.7,901.1 580.4,906.6 585.0,906.3 587.9,908.5 590.8,910.7 593.8,907.7 596.7,908.5 599.6,910.7 603.2,913.6 606.9,913.3 610.5,908.5 614.2,912.8 617.4,913.9 620.8,910.7 624.1,910.9 627.3,915.0 631.0,917.2 634.6,914.3 638.3,913.9 641.9,915.8 644.9,921.6 648.5,919.7 651.9,918.2 655.1,914.3 658.7,918.7 661.6,922.3 665.0,928.2 668.9,926.0 671.1,924.5" fill="none" stroke="#5ed4ea" stroke-width="1.6" stroke-linejoin="round"/>
<polyline points="257.3,834.3 260.7,831.7 264.1,831.4 267.5,840.4 270.9,849.2 274.3,837.6 277.7,836.8 281.1,843.4 284.5,840.2 287.9,836.8 291.3,840.2 294.7,834.6 298.1,836.4 301.5,838.3 304.8,839.3 308.2,836.4 311.6,840.4 315.0,844.1 318.4,848.0 321.8,845.5 325.2,849.2 328.6,855.4 332.0,854.8 335.4,859.4 338.8,850.6 342.2,854.3 345.6,858.0 349.0,859.9 352.4,864.0 355.8,864.2 359.2,862.8 362.6,865.0 366.0,876.7 369.4,874.4 372.8,875.6 376.2,876.0 379.6,869.9 383.0,862.8 386.4,873.0 389.8,880.1 393.2,874.8 396.6,875.2 400.0,869.3" fill="none" stroke="#000" stroke-width="1.5" stroke-linejoin="round"/>
</g>
<rect x="59.0" y="778.4" width="611.80" height="198.50" fill="none" stroke="#000" stroke-width="1.1"/>
<line x1="59.00" x2="59.00" y1="976.9" y2="982.1999999999999" stroke="#000" stroke-width="1.1"/>
<line x1="126.98" x2="126.98" y1="976.9" y2="982.1999999999999" stroke="#000" stroke-width="1.1"/>
<line x1="194.96" x2="194.96" y1="976.9" y2="982.1999999999999" stroke="#000" stroke-width="1.1"/>
<line x1="262.93" x2="262.93" y1="976.9" y2="982.1999999999999" stroke="#000" stroke-width="1.1"/>
<line x1="330.91" x2="330.91" y1="976.9" y2="982.1999999999999" stroke="#000" stroke-width="1.1"/>
<line x1="398.89" x2="398.89" y1="976.9" y2="982.1999999999999" stroke="#000" stroke-width="1.1"/>
<line x1="466.87" x2="466.87" y1="976.9" y2="982.1999999999999" stroke="#000" stroke-width="1.1"/>
<line x1="534.84" x2="534.84" y1="976.9" y2="982.1999999999999" stroke="#000" stroke-width="1.1"/>
<line x1="602.82" x2="602.82" y1="976.9" y2="982.1999999999999" stroke="#000" stroke-width="1.1"/>
<line x1="670.80" x2="670.80" y1="976.9" y2="982.1999999999999" stroke="#000" stroke-width="1.1"/>
<line x1="53.7" x2="59.0" y1="976.90" y2="976.90" stroke="#000" stroke-width="1.1"/>
<line x1="53.7" x2="59.0" y1="948.54" y2="948.54" stroke="#000" stroke-width="1.1"/>
<line x1="53.7" x2="59.0" y1="920.19" y2="920.19" stroke="#000" stroke-width="1.1"/>
<line x1="53.7" x2="59.0" y1="891.83" y2="891.83" stroke="#000" stroke-width="1.1"/>
<line x1="53.7" x2="59.0" y1="863.47" y2="863.47" stroke="#000" stroke-width="1.1"/>
<line x1="53.7" x2="59.0" y1="835.11" y2="835.11" stroke="#000" stroke-width="1.1"/>
<line x1="53.7" x2="59.0" y1="806.76" y2="806.76" stroke="#000" stroke-width="1.1"/>
<line x1="53.7" x2="59.0" y1="778.40" y2="778.40" stroke="#000" stroke-width="1.1"/>
<rect x="483.8" y="783.8" width="180.4" height="28.6" rx="2" fill="#fff" fill-opacity="0.8" stroke="#ccc" stroke-width="1"/>
<line x1="486.7" x2="506.5" y1="790.5" y2="790.5" stroke="#4682b4" stroke-width="1.5"/>
<line x1="486.7" x2="506.5" y1="804.2" y2="804.2" stroke="#5ed4ea" stroke-width="1.5"/>
<line x1="588.9" x2="608.6999999999999" y1="790.5" y2="790.5" stroke="#c23b4c" stroke-width="1.5"/>
<line x1="588.9" x2="608.6999999999999" y1="804.2" y2="804.2" stroke="#000" stroke-width="1.5"/>
<g opacity="0.999"><text x="59.00" y="221.87" font-size="10.51" text-anchor="middle" textLength="22.71" lengthAdjust="spacingAndGlyphs">0.00</text>
<text x="124.26" y="221.87" font-size="10.51" text-anchor="middle" textLength="22.71" lengthAdjust="spacingAndGlyphs">0.64</text>
<text x="200.73" y="221.87" font-size="10.51" text-anchor="middle" textLength="22.71" lengthAdjust="spacingAndGlyphs">1.39</text>
<text x="310.86" y="221.87" font-size="10.51" text-anchor="middle" textLength="22.71" lengthAdjust="spacingAndGlyphs">2.47</text>
<text x="524.99" y="221.87" font-size="10.51" text-anchor="middle" textLength="22.71" lengthAdjust="spacingAndGlyphs">4.57</text>
<text x="670.80" y="221.87" font-size="10.51" text-anchor="middle" textLength="22.71" lengthAdjust="spacingAndGlyphs">6.00</text>
<text x="47.40" y="207.57" font-size="10.51" text-anchor="end" textLength="16.22" lengthAdjust="spacingAndGlyphs">0.0</text>
<text x="47.40" y="182.77" font-size="10.51" text-anchor="end" textLength="16.22" lengthAdjust="spacingAndGlyphs">0.1</text>
<text x="47.40" y="157.98" font-size="10.51" text-anchor="end" textLength="16.22" lengthAdjust="spacingAndGlyphs">0.2</text>
<text x="47.40" y="133.19" font-size="10.51" text-anchor="end" textLength="16.22" lengthAdjust="spacingAndGlyphs">0.3</text>
<text x="47.40" y="108.39" font-size="10.51" text-anchor="end" textLength="16.22" lengthAdjust="spacingAndGlyphs">0.4</text>
<text x="47.40" y="83.60" font-size="10.51" text-anchor="end" textLength="16.22" lengthAdjust="spacingAndGlyphs">0.5</text>
<text x="47.40" y="58.81" font-size="10.51" text-anchor="end" textLength="16.22" lengthAdjust="spacingAndGlyphs">0.6</text>
<text x="47.40" y="34.01" font-size="10.51" text-anchor="end" textLength="16.22" lengthAdjust="spacingAndGlyphs">0.7</text>
<text x="47.40" y="9.22" font-size="10.51" text-anchor="end" textLength="16.22" lengthAdjust="spacingAndGlyphs">0.8</text>
<text x="65.50" y="25.44" font-size="11.12" text-anchor="start" textLength="42.59" lengthAdjust="spacingAndGlyphs">a) LIA-N</text>
<text x="59.00" y="479.72" font-size="10.51" text-anchor="middle" textLength="22.71" lengthAdjust="spacingAndGlyphs">0.00</text>
<text x="124.26" y="479.72" font-size="10.51" text-anchor="middle" textLength="22.71" lengthAdjust="spacingAndGlyphs">0.64</text>
<text x="200.73" y="479.72" font-size="10.51" text-anchor="middle" textLength="22.71" lengthAdjust="spacingAndGlyphs">1.39</text>
<text x="310.86" y="479.72" font-size="10.51" text-anchor="middle" textLength="22.71" lengthAdjust="spacingAndGlyphs">2.47</text>
<text x="524.99" y="479.72" font-size="10.51" text-anchor="middle" textLength="22.71" lengthAdjust="spacingAndGlyphs">4.57</text>
<text x="670.80" y="479.72" font-size="10.51" text-anchor="middle" textLength="22.71" lengthAdjust="spacingAndGlyphs">6.00</text>
<text x="47.40" y="465.42" font-size="10.51" text-anchor="end" textLength="16.22" lengthAdjust="spacingAndGlyphs">0.0</text>
<text x="47.40" y="440.62" font-size="10.51" text-anchor="end" textLength="16.22" lengthAdjust="spacingAndGlyphs">0.1</text>
<text x="47.40" y="415.82" font-size="10.51" text-anchor="end" textLength="16.22" lengthAdjust="spacingAndGlyphs">0.2</text>
<text x="47.40" y="391.02" font-size="10.51" text-anchor="end" textLength="16.22" lengthAdjust="spacingAndGlyphs">0.3</text>
<text x="47.40" y="366.22" font-size="10.51" text-anchor="end" textLength="16.22" lengthAdjust="spacingAndGlyphs">0.4</text>
<text x="47.40" y="341.42" font-size="10.51" text-anchor="end" textLength="16.22" lengthAdjust="spacingAndGlyphs">0.5</text>
<text x="47.40" y="316.62" font-size="10.51" text-anchor="end" textLength="16.22" lengthAdjust="spacingAndGlyphs">0.6</text>
<text x="47.40" y="291.82" font-size="10.51" text-anchor="end" textLength="16.22" lengthAdjust="spacingAndGlyphs">0.7</text>
<text x="47.40" y="267.02" font-size="10.51" text-anchor="end" textLength="16.22" lengthAdjust="spacingAndGlyphs">0.8</text>
<text x="65.50" y="283.24" font-size="11.12" text-anchor="start" textLength="33.01" lengthAdjust="spacingAndGlyphs">b) QEI</text>
<text x="59.00" y="737.57" font-size="10.51" text-anchor="middle" textLength="22.71" lengthAdjust="spacingAndGlyphs">0.00</text>
<text x="124.26" y="737.57" font-size="10.51" text-anchor="middle" textLength="22.71" lengthAdjust="spacingAndGlyphs">0.64</text>
<text x="200.73" y="737.57" font-size="10.51" text-anchor="middle" textLength="22.71" lengthAdjust="spacingAndGlyphs">1.39</text>
<text x="310.86" y="737.57" font-size="10.51" text-anchor="middle" textLength="22.71" lengthAdjust="spacingAndGlyphs">2.47</text>
<text x="524.99" y="737.57" font-size="10.51" text-anchor="middle" textLength="22.71" lengthAdjust="spacingAndGlyphs">4.57</text>
<text x="670.80" y="737.57" font-size="10.51" text-anchor="middle" textLength="22.71" lengthAdjust="spacingAndGlyphs">6.00</text>
<text x="47.40" y="723.27" font-size="10.51" text-anchor="end" textLength="16.22" lengthAdjust="spacingAndGlyphs">0.0</text>
<text x="47.40" y="698.46" font-size="10.51" text-anchor="end" textLength="16.22" lengthAdjust="spacingAndGlyphs">0.1</text>
<text x="47.40" y="673.66" font-size="10.51" text-anchor="end" textLength="16.22" lengthAdjust="spacingAndGlyphs">0.2</text>
<text x="47.40" y="648.85" font-size="10.51" text-anchor="end" textLength="16.22" lengthAdjust="spacingAndGlyphs">0.3</text>
<text x="47.40" y="624.04" font-size="10.51" text-anchor="end" textLength="16.22" lengthAdjust="spacingAndGlyphs">0.4</text>
<text x="47.40" y="599.24" font-size="10.51" text-anchor="end" textLength="16.22" lengthAdjust="spacingAndGlyphs">0.5</text>
<text x="47.40" y="574.43" font-size="10.51" text-anchor="end" textLength="16.22" lengthAdjust="spacingAndGlyphs">0.6</text>
<text x="47.40" y="549.62" font-size="10.51" text-anchor="end" textLength="16.22" lengthAdjust="spacingAndGlyphs">0.7</text>
<text x="47.40" y="524.82" font-size="10.51" text-anchor="end" textLength="16.22" lengthAdjust="spacingAndGlyphs">0.8</text>
<text x="65.50" y="541.04" font-size="11.12" text-anchor="start" textLength="46.72" lengthAdjust="spacingAndGlyphs">c) CAA-S</text>
<text x="364.60" y="754.84" font-size="11.12" text-anchor="middle" textLength="162.63" lengthAdjust="spacingAndGlyphs">Edge of ice thickness bins (m)</text>
<text transform="translate(4.90,359.30) rotate(-90)" x="0" y="3.94" font-size="11.12" text-anchor="middle" textLength="55.80" lengthAdjust="spacingAndGlyphs">Frequency</text>
<text x="475.30" y="20.52" font-size="10.23" text-anchor="start" textLength="50.15" lengthAdjust="spacingAndGlyphs">1921-1980</text>
<text x="475.30" y="34.22" font-size="10.23" text-anchor="start" textLength="50.15" lengthAdjust="spacingAndGlyphs">1981-2000</text>
<text x="475.30" y="47.92" font-size="10.23" text-anchor="start" textLength="91.75" lengthAdjust="spacingAndGlyphs">PIOMAS: 1981-2000</text>
<text x="475.30" y="61.52" font-size="10.23" text-anchor="start" textLength="50.15" lengthAdjust="spacingAndGlyphs">2001-2020</text>
<text x="475.30" y="75.22" font-size="10.23" text-anchor="start" textLength="91.75" lengthAdjust="spacingAndGlyphs">PIOMAS: 2001-2020</text>
<text x="612.30" y="20.52" font-size="10.23" text-anchor="start" textLength="50.15" lengthAdjust="spacingAndGlyphs">2021-2040</text>
<text x="612.30" y="34.22" font-size="10.23" text-anchor="start" textLength="50.15" lengthAdjust="spacingAndGlyphs">2041-2060</text>
<text x="612.30" y="47.92" font-size="10.23" text-anchor="start" textLength="50.15" lengthAdjust="spacingAndGlyphs">2061-2080</text>
<text x="612.30" y="61.52" font-size="10.23" text-anchor="start" textLength="50.15" lengthAdjust="spacingAndGlyphs">2081-2100</text>
<text x="59.00" y="995.52" font-size="10.51" text-anchor="middle" textLength="25.96" lengthAdjust="spacingAndGlyphs">1920</text>
<text x="126.98" y="995.52" font-size="10.51" text-anchor="middle" textLength="25.96" lengthAdjust="spacingAndGlyphs">1940</text>
<text x="194.96" y="995.52" font-size="10.51" text-anchor="middle" textLength="25.96" lengthAdjust="spacingAndGlyphs">1960</text>
<text x="262.93" y="995.52" font-size="10.51" text-anchor="middle" textLength="25.96" lengthAdjust="spacingAndGlyphs">1980</text>
<text x="330.91" y="995.52" font-size="10.51" text-anchor="middle" textLength="25.96" lengthAdjust="spacingAndGlyphs">2000</text>
<text x="398.89" y="995.52" font-size="10.51" text-anchor="middle" textLength="25.96" lengthAdjust="spacingAndGlyphs">2020</text>
<text x="466.87" y="995.52" font-size="10.51" text-anchor="middle" textLength="25.96" lengthAdjust="spacingAndGlyphs">2040</text>
<text x="534.84" y="995.52" font-size="10.51" text-anchor="middle" textLength="25.96" lengthAdjust="spacingAndGlyphs">2060</text>
<text x="602.82" y="995.52" font-size="10.51" text-anchor="middle" textLength="25.96" lengthAdjust="spacingAndGlyphs">2080</text>
<text x="670.80" y="995.52" font-size="10.51" text-anchor="middle" textLength="25.96" lengthAdjust="spacingAndGlyphs">2100</text>
<text x="47.40" y="981.22" font-size="10.51" text-anchor="end" textLength="16.22" lengthAdjust="spacingAndGlyphs">0.0</text>
<text x="47.40" y="952.86" font-size="10.51" text-anchor="end" textLength="16.22" lengthAdjust="spacingAndGlyphs">0.5</text>
<text x="47.40" y="924.50" font-size="10.51" text-anchor="end" textLength="16.22" lengthAdjust="spacingAndGlyphs">1.0</text>
<text x="47.40" y="896.15" font-size="10.51" text-anchor="end" textLength="16.22" lengthAdjust="spacingAndGlyphs">1.5</text>
<text x="47.40" y="867.79" font-size="10.51" text-anchor="end" textLength="16.22" lengthAdjust="spacingAndGlyphs">2.0</text>
<text x="47.40" y="839.43" font-size="10.51" text-anchor="end" textLength="16.22" lengthAdjust="spacingAndGlyphs">2.5</text>
<text x="47.40" y="811.08" font-size="10.51" text-anchor="end" textLength="16.22" lengthAdjust="spacingAndGlyphs">3.0</text>
<text x="47.40" y="782.72" font-size="10.51" text-anchor="end" textLength="16.22" lengthAdjust="spacingAndGlyphs">3.5</text>
<text x="65.50" y="798.94" font-size="11.12" text-anchor="start" textLength="68.36" lengthAdjust="spacingAndGlyphs">d) Pan-Arctic</text>
<text x="364.90" y="1012.94" font-size="11.12" text-anchor="middle" textLength="26.43" lengthAdjust="spacingAndGlyphs">Time</text>
<text transform="translate(18.80,877.10) rotate(-90)" x="0" y="3.94" font-size="11.12" text-anchor="middle" textLength="140.50" lengthAdjust="spacingAndGlyphs">May sea ice thickness (m)</text>
<text x="513.80" y="794.12" font-size="10.23" text-anchor="start" textLength="57.28" lengthAdjust="spacingAndGlyphs">CESM1.3-HR</text>
<text x="513.80" y="807.82" font-size="10.23" text-anchor="start" textLength="55.48" lengthAdjust="spacingAndGlyphs">CESM1.3-LR</text>
<text x="616.60" y="794.12" font-size="10.23" text-anchor="start" textLength="46.13" lengthAdjust="spacingAndGlyphs">CESM2-LE</text>
<text x="616.60" y="807.82" font-size="10.23" text-anchor="start" textLength="35.57" lengthAdjust="spacingAndGlyphs">PIOMAS</text></g>
</svg>
</body></html>
